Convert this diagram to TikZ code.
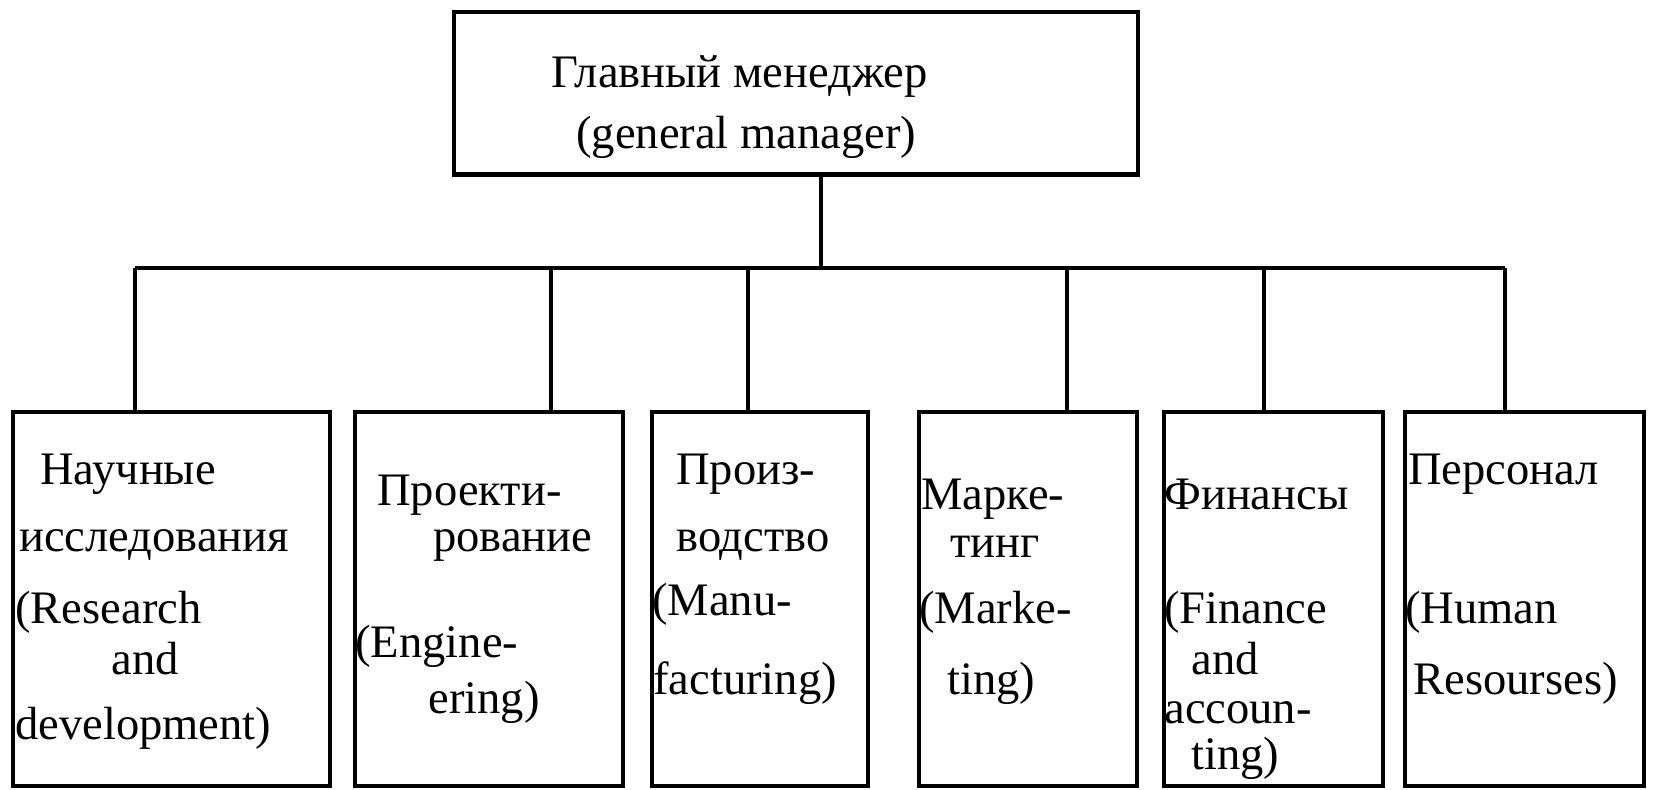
\documentclass[tikz,border=0pt]{standalone}
\usepackage{fontspec}
\setmainfont{Liberation Serif}
\usepackage{tikz}
\tikzstyle{unit}=[rectangle,draw=black,line width=2.3pt,inner sep=0pt,outer sep=0pt,
  minimum height=7.48cm]
\tikzstyle{head}=[rectangle,draw=black,line width=2.3pt,inner sep=0pt,outer sep=0pt]
\tikzstyle{ln}=[anchor=base west,inner sep=0pt,font=\fontsize{26.5}{30}\selectfont]
\tikzstyle{wire}=[draw=black,line width=2.2pt]

\begin{document}
\begin{tikzpicture}[x=0.02cm,y=-0.02cm]
    \useasboundingbox (0,0) rectangle (1656,789);
    % boxes
    \node [style=head, minimum width=13.68cm, minimum height=3.26cm] (gm) at (796, 93) {};
    \node [style=unit, minimum width=6.34cm] (rd) at (171.5, 599) {};
    \node [style=unit, minimum width=5.36cm] (eng) at (489, 599) {};
    \node [style=unit, minimum width=4.32cm] (man) at (760, 599) {};
    \node [style=unit, minimum width=4.36cm] (mkt) at (1028, 599) {};
    \node [style=unit, minimum width=4.38cm] (fin) at (1273.5, 599) {};
    \node [style=unit, minimum width=4.78cm] (hr) at (1524.5, 599) {};
    % bus
    \coordinate (top) at (821, 268);
    \coordinate (j1) at (135, 268);
    \coordinate (j2) at (551, 268);
    \coordinate (j3) at (748, 268);
    \coordinate (j4) at (1067, 268);
    \coordinate (j5) at (1264, 268);
    \coordinate (j6) at (1505, 268);
    % texts
    \node [style=ln] (gm1) at (551, 87) {Главный менеджер};
    \node [style=ln] (gm2) at (576, 148) {(general manager)};
    \node [style=ln] (rd1) at (40, 484) {Научные};
    \node [style=ln] (rd2) at (19, 551) {исследования};
    \node [style=ln] (rd3) at (15, 623) {(Research};
    \node [style=ln] (rd4) at (111, 674) {and};
    \node [style=ln] (rd5) at (15, 739) {development)};
    \node [style=ln] (eng1) at (377, 505) {Проекти-};
    \node [style=ln] (eng2) at (433, 551) {рование};
    \node [style=ln] (eng3) at (355, 657) {(Engine-};
    \node [style=ln] (eng4) at (428, 713) {ering)};
    \node [style=ln] (man1) at (676, 484) {Произ-};
    \node [style=ln] (man2) at (676, 551) {водство};
    \node [style=ln] (man3) at (652, 615) {(Manu-};
    \node [style=ln] (man4) at (653, 694) {facturing)};
    \node [style=ln] (mkt1) at (921, 509) {Марке-};
    \node [style=ln] (mkt2) at (950, 557) {тинг};
    \node [style=ln] (mkt3) at (919, 623) {(Marke-};
    \node [style=ln] (mkt4) at (947, 694) {ting)};
    \node [style=ln] (fin1) at (1164, 509) {Финансы};
    \node [style=ln] (fin2) at (1164, 623) {(Finance};
    \node [style=ln] (fin3) at (1191, 674) {and};
    \node [style=ln] (fin4) at (1164, 723) {accoun-};
    \node [style=ln] (fin5) at (1191, 769) {ting)};
    \node [style=ln] (hr1) at (1408, 484) {Персонал};
    \node [style=ln] (hr2) at (1405, 623) {(Human};
    \node [style=ln] (hr3) at (1413, 694) {Resourses)};
    % connectors
    \draw [style=wire] (top |- gm.south) to (top);
    \draw [style=wire] (j1) to (j6);
    \draw [style=wire] (j1) to (j1 |- rd.north);
    \draw [style=wire] (j2) to (j2 |- eng.north);
    \draw [style=wire] (j3) to (j3 |- man.north);
    \draw [style=wire] (j4) to (j4 |- mkt.north);
    \draw [style=wire] (j5) to (j5 |- fin.north);
    \draw [style=wire] (j6) to (j6 |- hr.north);
\end{tikzpicture}
\end{document}
